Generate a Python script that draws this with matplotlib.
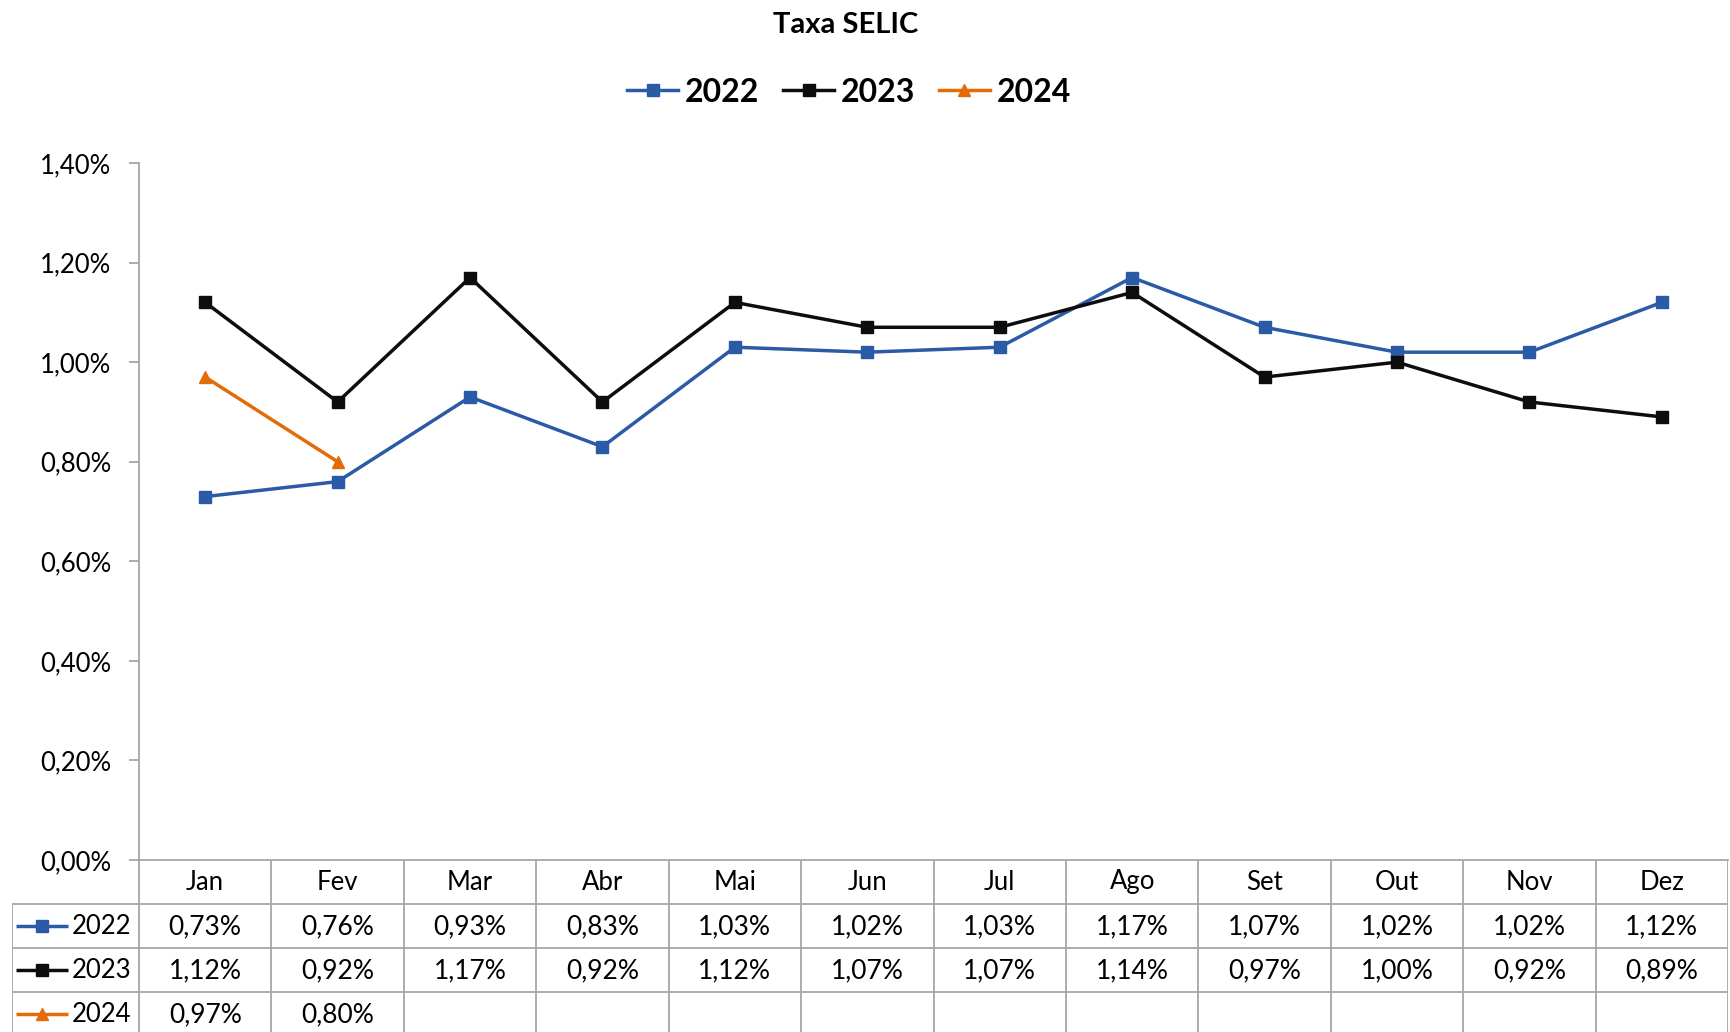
import matplotlib
matplotlib.use("Agg")
import matplotlib.pyplot as plt
from matplotlib.lines import Line2D

plt.rcParams['font.family'] = ['Lato', 'DejaVu Sans']

# data
meses = ['Jan', 'Fev', 'Mar', 'Abr', 'Mai', 'Jun', 'Jul', 'Ago', 'Set', 'Out', 'Nov', 'Dez']
selic_2022 = [0.73, 0.76, 0.93, 0.83, 1.03, 1.02, 1.03, 1.17, 1.07, 1.02, 1.02, 1.12]
selic_2023 = [1.12, 0.92, 1.17, 0.92, 1.12, 1.07, 1.07, 1.14, 0.97, 1.00, 0.92, 0.89]
selic_2024 = [0.97, 0.80]
anos = ['2022', '2023', '2024']
yticks = [0.0, 0.2, 0.4, 0.6, 0.8, 1.0, 1.2, 1.4]

series = [selic_2022, selic_2023, selic_2024]
cores = ['#2b5aa6', '#0d0d0d', '#e36c09']
marcadores = ['s', 's', '^']
grid_cor = '#a6a6a6'

def pct(v):
    return f"{v:.2f}%".replace('.', ',')

W, H = 1730, 1032
fig = plt.figure(figsize=(W / 100, H / 100), dpi=100)

# plot area in pixels
x0, x1 = 139, 1728
y_top, y_bot = 163, 860
ax = fig.add_axes([x0 / W, 1 - y_bot / H, (x1 - x0) / W, (y_bot - y_top) / H])

xs = [i + 0.5 for i in range(len(meses))]
for vals, cor, m, ano in zip(series, cores, marcadores, anos):
    ax.plot(xs[:len(vals)], vals, color=cor, lw=2.5, marker=m, ms=9, label=ano, zorder=3)

ax.set_xlim(0, 12)
ax.set_ylim(0, 1.4)
ax.set_yticks(yticks)
ax.set_yticklabels([pct(t) for t in yticks], fontsize=18.5)
ax.set_xticks([])
for s in ['top', 'right']:
    ax.spines[s].set_visible(False)
for s in ['left', 'bottom']:
    ax.spines[s].set_color(grid_cor)
    ax.spines[s].set_linewidth(1.3)
ax.tick_params(axis='y', length=7, width=1.3, color=grid_cor, pad=13)

# title and legend
fig.text(846 / W, 1 - 25 / H, 'Taxa SELIC', ha='center', va='center',
         fontsize=21, fontweight='bold')
handles = [Line2D([], [], color=c, lw=2.5, marker=m, ms=9) for c, m in zip(cores, marcadores)]
leg = fig.legend(handles, anos, loc='center', bbox_to_anchor=(849 / W, 1 - 92 / H),
                 ncol=3, frameon=False, handlelength=1.6, handletextpad=0.2,
                 columnspacing=0.75, prop={'weight': 'bold', 'size': 23})

# data table below
col_w = (x1 - x0) / 12
lab_w = (x0 - 12) / col_w
row_h = 44
n_rows = 4
tax = fig.add_axes([12 / W, 1 - (y_bot + n_rows * row_h) / H,
                    (x1 - 12) / W, n_rows * row_h / H])
tax.set_xlim(-lab_w, 12)
tax.set_ylim(n_rows, 0)
tax.axis('off')

lk = dict(color=grid_cor, lw=1.3, solid_capstyle='butt')
for i in range(13):
    tax.plot([i, i], [0, n_rows], **lk)
tax.plot([-lab_w, -lab_w], [1, n_rows], **lk)
for r in range(1, n_rows):
    tax.plot([-lab_w, 12], [r, r], **lk)

for i, mes in enumerate(meses):
    tax.text(i + 0.5, 0.5, mes, ha='center', va='center', fontsize=18.5)

for r, (vals, cor, m, ano) in enumerate(zip(series, cores, marcadores, anos), start=1):
    tax.plot([-lab_w + 0.03, -lab_w + 0.42], [r + 0.5, r + 0.5], color=cor, lw=2.5,
             solid_capstyle='butt')
    tax.plot([-lab_w + 0.225], [r + 0.5], color=cor, marker=m, ms=8)
    tax.text(-lab_w + 0.45, r + 0.52, ano, ha='left', va='center', fontsize=18.5)
    for i, v in enumerate(vals):
        tax.text(i + 0.5, r + 0.52, pct(v), ha='center', va='center', fontsize=19)

fig.savefig('out.png', dpi=100)
